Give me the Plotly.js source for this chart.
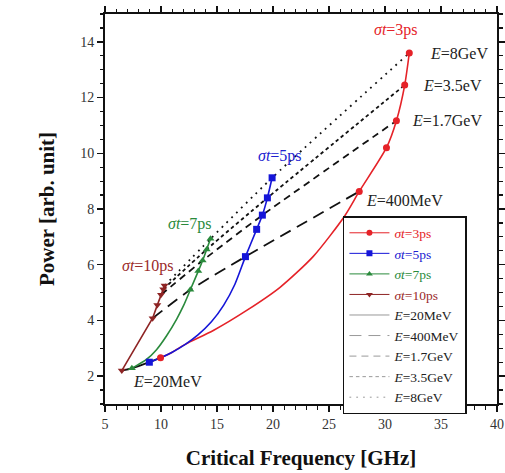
<!DOCTYPE html>
<html><head><meta charset="utf-8">
<script src="https://cdn.plot.ly/plotly-3.0.1.min.js"></script>
<style>html,body{margin:0;padding:0;background:#fff}#chart{width:505px;height:473px}</style>
</head><body><div id="chart"></div>
<script>
// Marker points (6 energies per sigma series: 20MeV, 400MeV, ?, 1.7GeV, 3.5GeV, 8GeV)
const s3x  = [9.96, 27.7, 30.13, 31.02, 31.76, 32.17];
const s3y  = [2.66, 8.63, 10.2, 11.17, 12.45, 13.6];
const s5x  = [8.96, 17.54, 18.54, 19.05, 19.5, 19.92];
const s5y  = [2.5, 6.29, 7.27, 7.78, 8.4, 9.12];
const s7x  = [7.4, 12.62, 13.33, 13.72, 14.08, 14.42];
const s7y  = [2.28, 5.1, 5.77, 6.15, 6.55, 6.93];
const s10x = [6.5, 9.25, 9.67, 10.0, 10.2, 10.32];
const s10y = [2.2, 4.08, 4.55, 4.92, 5.12, 5.25];

// Smooth curves
const c3x  = [9.96, 11.0, 12.2, 14.67, 17.65, 20.63, 23.6, 26.4, 27.7, 30.13, 31.02, 31.76, 32.17];
const c3y  = [2.66, 2.86, 3.15, 3.64, 4.36, 5.19, 6.3, 7.75, 8.63, 10.2, 11.17, 12.45, 13.6];
const c5x  = [8.96, 9.96, 11.0, 12.2, 13.3, 14.5, 15.6, 16.6, 17.54, 18.54, 19.05, 19.5, 19.92];
const c5y  = [2.5, 2.66, 2.86, 3.15, 3.48, 3.95, 4.55, 5.3, 6.29, 7.27, 7.78, 8.4, 9.12];
const c7x  = [7.4, 8.7, 9.6, 10.5, 11.4, 12.0, 12.62, 13.33, 13.72, 14.08, 14.42];
const c7y  = [2.28, 2.6, 2.95, 3.45, 4.05, 4.52, 5.1, 5.77, 6.15, 6.55, 6.93];

const seriesNames = ['3ps', '5ps', '7ps', '10ps'];
const energyNames = ['20MeV', '400MeV', '1.7GeV', '3.5GeV', '8GeV'];
const energyIdx = [0, 1, 3, 4, 5];

const colors = ['#e52228', '#1515d8', '#2a8a3c', '#8e2424'];
const textColors = ['#e52228', '#2020d0', '#2a8a3c', '#9a2a2a'];
const symbols = ['circle', 'square', 'triangle-up', 'triangle-down'];
const dashes = ['solid', '12px,7px', '7px,5px', '3.5px,3px', '1.8px,5px'];

const mx = [s3x, s5x, s7x, s10x];
const my = [s3y, s5y, s7y, s10y];
const cx = [c3x, c5x, c7x, s10x];
const cy = [c3y, c5y, c7y, s10y];

const traces = [];
energyNames.forEach((en, k) => {
  const i = energyIdx[k];
  traces.push({
    x: [s10x[i], s7x[i], s5x[i], s3x[i]],
    y: [s10y[i], s7y[i], s5y[i], s3y[i]],
    mode: 'lines', showlegend: false, hoverinfo: 'skip',
    line: {color: '#111', width: 1.8, dash: dashes[k], shape: 'spline', smoothing: 0.6}
  });
});
for (let s = 0; s < 4; s++) {
  traces.push({
    x: cx[s], y: cy[s], mode: 'lines', showlegend: false, hoverinfo: 'skip',
    line: {color: colors[s], width: 1.6, shape: s === 3 ? 'linear' : 'spline', smoothing: 0.7}
  });
}
for (let s = 0; s < 4; s++) {
  traces.push({
    x: mx[s], y: my[s], mode: 'markers', showlegend: false,
    marker: {color: colors[s], symbol: symbols[s], size: 7}
  });
}
for (let s = 0; s < 4; s++) {
  traces.push({
    x: [null], y: [null], mode: 'lines+markers',
    name: '<span style="color:' + textColors[s] + '"><i>σt</i>=' + seriesNames[s] + '</span>',
    line: {color: colors[s], width: 1}, marker: {color: colors[s], symbol: symbols[s], size: 6}
  });
}
energyNames.forEach((en, k) => {
  traces.push({
    x: [null], y: [null], mode: 'lines',
    name: '<i>E</i>=' + en,
    line: {color: '#999', width: 1, dash: dashes[k]}
  });
});

const serif = 'Liberation Serif';
const ann = (x, y, t, c) => ({x: x, y: y, xref: 'x', yref: 'y', text: t, showarrow: false,
  font: {family: serif, size: 16, color: c}});
const annotations = [
  ann(31.0, 14.43, '<i>σt</i>=3ps', textColors[0]),
  ann(20.6, 9.9, '<i>σt</i>=5ps', textColors[1]),
  ann(12.6, 7.46, '<i>σt</i>=7ps', textColors[2]),
  ann(8.8, 5.96, '<i>σt</i>=10ps', textColors[3]),
  ann(36.6, 13.57, '<i>E</i>=8GeV', '#222'),
  ann(36.0, 12.43, '<i>E</i>=3.5eV', '#222'),
  ann(35.5, 11.18, '<i>E</i>=1.7GeV', '#222'),
  ann(31.7, 8.32, '<i>E</i>=400MeV', '#222'),
  ann(10.6, 1.82, '<i>E</i>=20MeV', '#222')
];

const axisCommon = {
  showgrid: false, zeroline: false, showline: true, linecolor: '#111', linewidth: 2,
  mirror: 'ticks', ticks: 'outside', ticklen: 6, tickwidth: 1.5, tickcolor: '#111',
  tickfont: {family: serif, size: 14, color: '#333'}
};

const layout = {
  width: 505, height: 473,
  margin: {l: 105, r: 8, t: 14, b: 69},
  paper_bgcolor: '#fff', plot_bgcolor: '#fff',
  font: {family: serif},
  showlegend: true,
  xaxis: Object.assign({}, axisCommon, {
    range: [5, 40], dtick: 5, tick0: 5,
    minor: {dtick: 1, ticks: 'outside', ticklen: 3.5, tickwidth: 1.2, tickcolor: '#111'},
    title: {text: '<b>Critical Frequency [GHz]</b>', standoff: 20,
      font: {family: serif, size: 21, color: '#111'}}
  }),
  yaxis: Object.assign({}, axisCommon, {
    range: [1, 15], dtick: 2, tick0: 0,
    minor: {dtick: 0.5, ticks: 'outside', ticklen: 3.5, tickwidth: 1.2, tickcolor: '#111'},
    title: {text: '<b>Power [arb. unit]</b>', standoff: 20,
      font: {family: serif, size: 21, color: '#111'}}
  }),
  legend: {
    x: 0.607, y: 0.482, xanchor: 'left', yanchor: 'top',
    bgcolor: '#fff', bordercolor: '#111', borderwidth: 1.5,
    font: {family: serif, size: 13.5, color: '#222'},
    tracegroupgap: 0, itemwidth: 40
  },
  annotations: annotations
};

Plotly.newPlot('chart', traces, layout, {displayModeBar: false, staticPlot: true});
</script></body></html>
